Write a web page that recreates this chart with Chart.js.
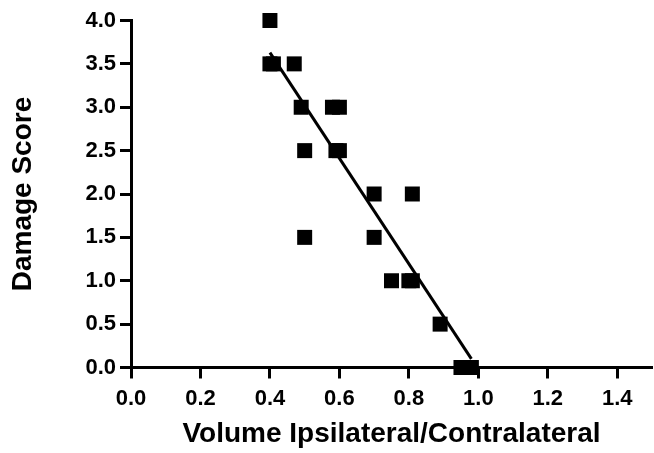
<!DOCTYPE html>
<html>
<head>
<meta charset="utf-8">
<script src="https://cdn.jsdelivr.net/npm/chart.js@4/dist/chart.umd.min.js"></script>
<style>
html,body{margin:0;padding:0;background:#fff;}
canvas{display:block;}
</style>
</head>
<body>
<canvas id="c" width="654" height="453"></canvas>
<script>
// Data
const volumeRatio = [0.40, 0.40, 0.41, 0.47, 0.49, 0.58, 0.60, 0.50, 0.59, 0.60, 0.70, 0.81, 0.50, 0.70, 0.75, 0.80, 0.81, 0.89, 0.95, 0.965, 0.98];
const damageScore = [4.0, 3.5, 3.5, 3.5, 3.0, 3.0, 3.0, 2.5, 2.5, 2.5, 2.0, 2.0, 1.5, 1.5, 1.0, 1.0, 1.0, 0.5, 0.0, 0.0, 0.0];
const fitLineX = [0.40, 0.98];
const fitLineY = [3.63, 0.10];
const xTickValues = [0.0, 0.2, 0.4, 0.6, 0.8, 1.0, 1.2, 1.4];
const yTickValues = [0.0, 0.5, 1.0, 1.5, 2.0, 2.5, 3.0, 3.5, 4.0];
const xTitle = 'Volume Ipsilateral/Contralateral';
const yTitle = 'Damage Score';

const FONT = "'Liberation Sans', Arial, sans-serif";

const points = volumeRatio.map((x, i) => ({x: x, y: damageScore[i]}));
const fit = fitLineX.map((x, i) => ({x: x, y: fitLineY[i]}));

new Chart(document.getElementById('c'), {
  type: 'scatter',
  data: {
    datasets: [
      {
        type: 'line',
        data: fit,
        borderColor: '#000',
        borderWidth: 3,
        pointRadius: 0,
        fill: false,
        tension: 0,
        clip: false,
        order: 2
      },
      {
        data: points,
        pointStyle: 'rect',
        pointRadius: 10.6,
        pointBackgroundColor: '#000',
        pointBorderColor: '#000',
        pointBorderWidth: 0,
        clip: false,
        order: 1
      }
    ]
  },
  options: {
    responsive: false,
    animation: false,
    events: [],
    layout: { autoPadding: false, padding: { top: 20.5, right: 2, left: 0, bottom: 0 } },
    plugins: { legend: { display: false }, tooltip: { enabled: false } },
    scales: {
      x: {
        type: 'linear',
        min: 0,
        max: 1.5,
        afterBuildTicks: s => { s.ticks = xTickValues.map(v => ({value: v})); },
        afterFit: s => { s.height = 85.5; s.paddingRight = 0; s.paddingLeft = 0; },
        ticks: {
          color: '#000',
          padding: 7,
          maxRotation: 0,
          font: { family: FONT, size: 22, weight: 'bold' },
          callback: v => Number(v).toFixed(1)
        },
        grid: { drawOnChartArea: false, drawTicks: true, tickLength: 11, tickWidth: 3, tickColor: '#000', color: '#000' },
        border: { display: true, color: '#000', width: 3 },
        title: {
          display: true, text: xTitle, color: '#000',
          font: { family: FONT, size: 28, weight: 'bold' },
          padding: { top: 0, bottom: 2 }
        }
      },
      y: {
        type: 'linear',
        min: 0,
        max: 4,
        afterBuildTicks: s => { s.ticks = yTickValues.map(v => ({value: v})); },
        afterFit: s => { s.width = 131; s.paddingTop = 0; s.paddingBottom = 0; },
        ticks: {
          color: '#000',
          padding: 4,
          font: { family: FONT, size: 22, weight: 'bold' },
          callback: v => Number(v).toFixed(1)
        },
        grid: { drawOnChartArea: false, drawTicks: true, tickLength: 11, tickWidth: 3, tickColor: '#000', color: '#000' },
        border: { display: true, color: '#000', width: 3 },
        title: {
          display: true, text: yTitle, color: '#000',
          font: { family: FONT, size: 28, weight: 'bold' },
          padding: { top: 6, bottom: 0 }
        }
      }
    }
  }
});
</script>
</body>
</html>
